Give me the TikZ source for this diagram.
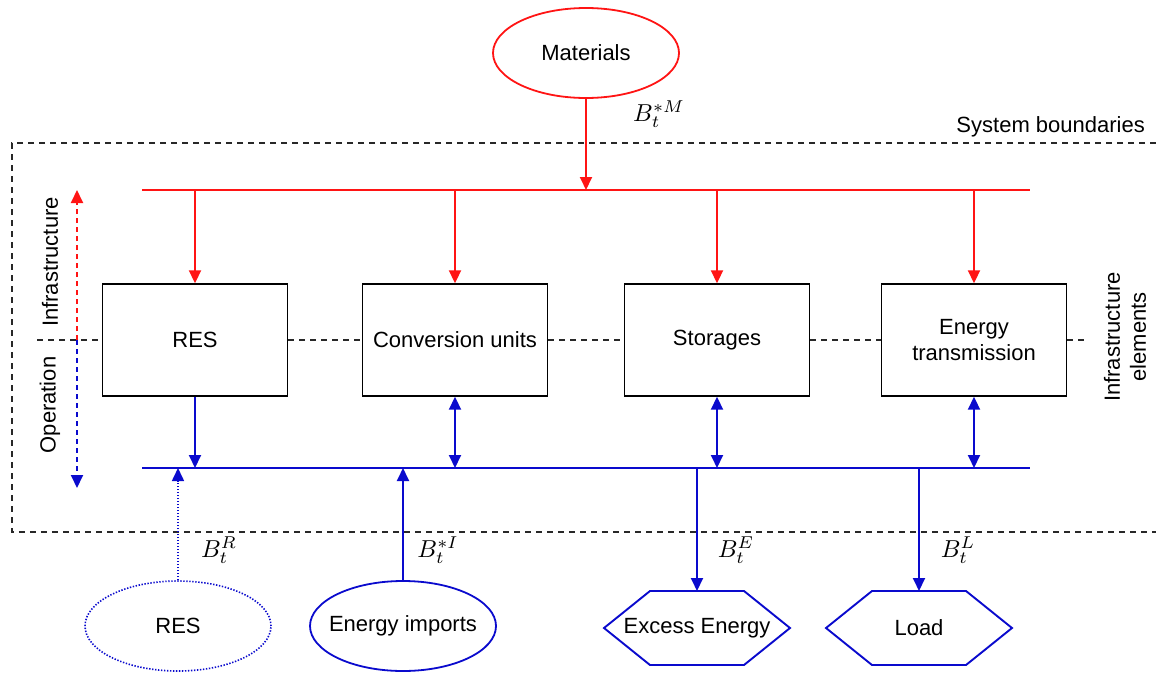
\documentclass[tikz,border=0pt]{standalone}
\usepackage{fontspec}
\setmainfont{Liberation Sans}
\usetikzlibrary{arrows.meta,shapes.geometric}
\definecolor{matred}{RGB}{255,20,20}
\definecolor{opblue}{RGB}{10,10,205}
\definecolor{bnd}{RGB}{40,40,40}
% flow symbols, set in 10pt math and enlarged
\newcommand{\flowsym}[1]{\scalebox{2.45}{\normalsize$#1$}}
\begin{document}
\begin{tikzpicture}[x=1pt,y=-1pt,
  font=\fontsize{22}{26}\selectfont,
  tip/.style={-{Triangle[length=13pt,width=12pt]}},
  dtip/.style={{Triangle[length=13pt,width=12pt]}-{Triangle[length=13pt,width=12pt]}},
  element/.style={draw=black, line width=1.4pt, minimum width=185pt, minimum height=112pt, align=center, inner sep=0pt},
  redline/.style={draw=matred, line width=1.9pt},
  blueline/.style={draw=opblue, line width=1.9pt},
  source/.style={ellipse, line width=1.8pt, minimum width=186pt, minimum height=90pt, inner sep=0pt},
  boundary/.style={draw=bnd, line width=1.4pt, dash pattern=on 6pt off 5pt},
  dotline/.style={line width=1.6pt, dash pattern=on 1.4pt off 1.6pt},
  lab/.style={inner sep=0pt}]
\useasboundingbox (0,0) rectangle (1156,672);

% system boundary (open to the right)
\draw[boundary] (1156,143) -- (12,143) -- (12,532) -- (1156,532);
\node[lab, anchor=east] (sysb) at (1145,127) {System boundaries};

% infrastructure elements
\node[element] (res) at (195,340) {RES};
\node[element] (conv) at (455,340) {Conversion units};
\node[element] (stor) at (717,340) {Storages};
\node[element] (trans) at (974,340) {Energy\\transmission};

% divider between infrastructure and operation
\coordinate (divL) at (37,340);
\coordinate (divR) at (1085,340);
\draw[boundary] (divL) -- (res.west);
\draw[boundary] (res.east) -- (conv.west);
\draw[boundary] (conv.east) -- (stor.west);
\draw[boundary] (stor.east) -- (trans.west);
\draw[boundary] (trans.east) -- (divR);

% side labels
\node[lab, rotate=90] (infl) at (50,262) {Infrastructure};
\node[lab, rotate=90] (opl) at (50,405) {Operation};
\node[lab, rotate=90, align=center] (iel) at (1125,337) {Infrastructure\\elements};
\coordinate (axmid) at (77,340);
\coordinate (axtop) at (77,190);
\coordinate (axbot) at (77,488);
\draw[redline, tip, dash pattern=on 5pt off 4pt] (axmid) -- (axtop);
\draw[blueline, tip, dash pattern=on 5pt off 4pt] (axmid) -- (axbot);

% material flows
\node[source, draw=matred] (mat) at (586,53) {};
\node[lab] (matt) at (mat.center) {Materials};
\coordinate (rbL) at (142,190);
\coordinate (rbR) at (1030,190);
\draw[redline] (rbL) -- (rbR);
\draw[redline, tip] (mat.south) -- (mat.south |- rbL);
\node[lab] (bm) at (659,114) {\flowsym{B_t^{*M}}};
\foreach \n in {res,conv,stor,trans}
  \draw[redline, tip] (\n.north |- rbL) -- (\n.north);

% energy flows
\coordinate (bbL) at (142,468);
\coordinate (bbR) at (1030,468);
\draw[blueline] (bbL) -- (bbR);
\draw[blueline, tip] (res.south) -- (res.south |- bbL);
\foreach \n in {conv,stor,trans}
  \draw[blueline, dtip] (\n.south) -- (\n.south |- bbL);

% external sources and sinks
\node[source, draw=opblue, dotline] (eres) at (178,626) {};
\node[lab] (erest) at (eres.center) {RES};
\node[source, draw=opblue] (imp) at (403,626) {};
\node[lab] (impt) at (imp.center) {Energy imports};
\node[lab] (exc) at (697,628) {Excess Energy};
\node[lab] (load) at (919,628) {Load};
\foreach \n in {exc,load}
  \draw[blueline, line join=miter]
    ([shift={(-93,0)}]\n.center) -- ([shift={(-47,-37)}]\n.center) -- ([shift={(47,-37)}]\n.center)
    -- ([shift={(93,0)}]\n.center) -- ([shift={(47,37)}]\n.center) -- ([shift={(-47,37)}]\n.center) -- cycle;
\coordinate (exctop) at ([shift={(0,-37)}]exc.center);
\coordinate (loadtop) at ([shift={(0,-37)}]load.center);

\draw[blueline, dotline, tip] (eres.north) -- (eres.north |- bbL);
\draw[blueline, tip] (imp.north) -- (imp.north |- bbL);
\draw[blueline, tip] (exctop |- bbL) -- (exctop);
\draw[blueline, tip] (loadtop |- bbL) -- (loadtop);

\node[lab] (br) at (219,550) {\flowsym{B_t^{R}}};
\node[lab] (bi) at (438,550) {\flowsym{B_t^{*I}}};
\node[lab] (be) at (736,550) {\flowsym{B_t^{E}}};
\node[lab] (bl) at (958,550) {\flowsym{B_t^{L}}};
\end{tikzpicture}
\end{document}
